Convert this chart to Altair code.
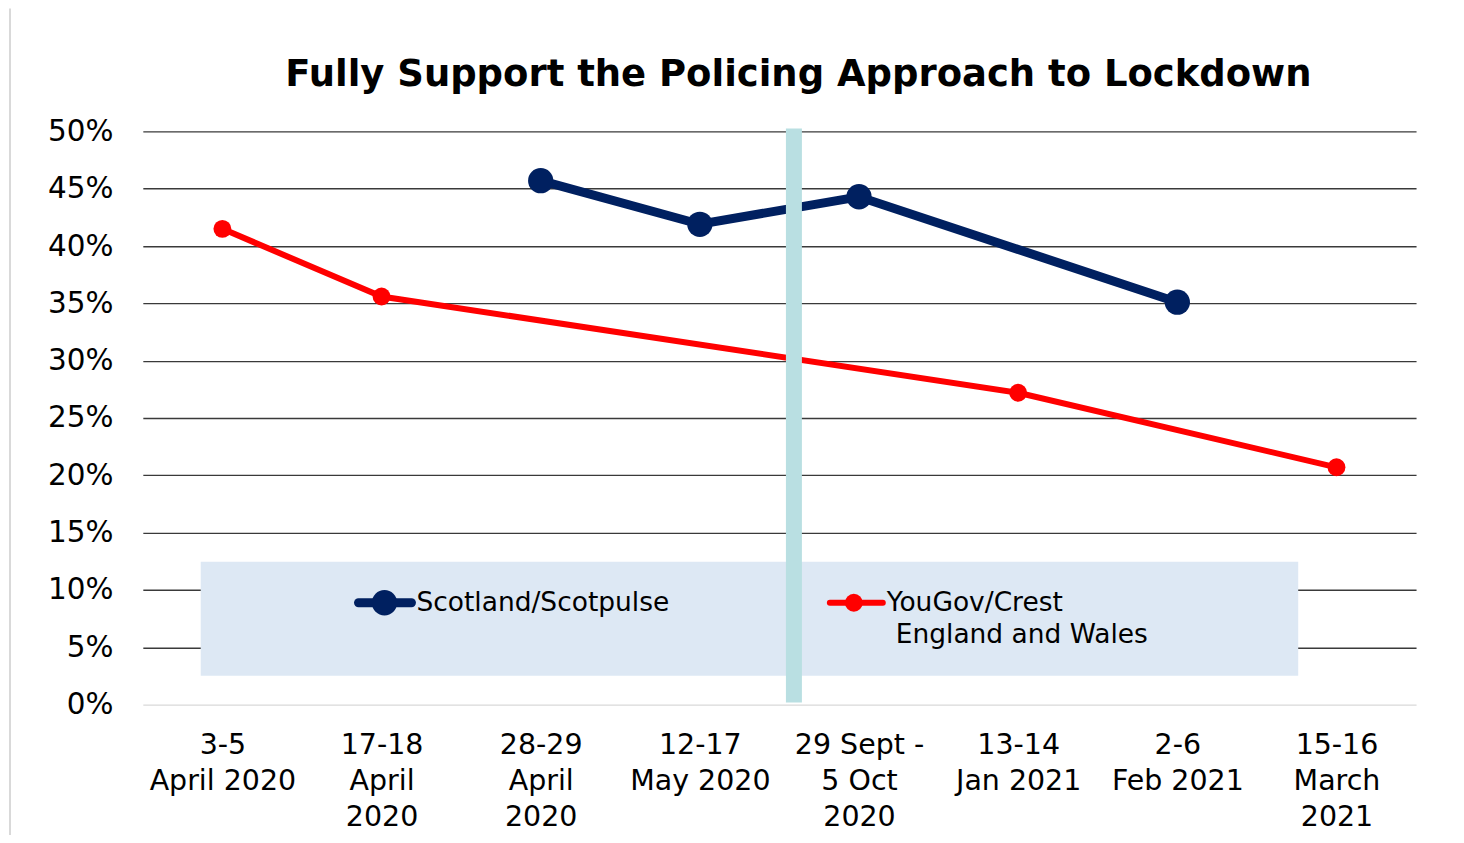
import altair as alt
import pandas as pd

categories = [
    "3-5\nApril 2020",
    "17-18\nApril\n2020",
    "28-29\nApril\n2020",
    "12-17\nMay 2020",
    "29 Sept -\n5 Oct\n2020",
    "13-14\nJan 2021",
    "2-6\nFeb 2021",
    "15-16\nMarch\n2021",
]
scotland = [None, None, 0.457, 0.419, 0.443, None, 0.351, None]
yougov = [0.415, 0.356, None, None, None, 0.272, None, 0.207]
series_names = ["Scotland/Scotpulse", "YouGov/Crest England and Wales"]
y_ticks = [0, 0.05, 0.10, 0.15, 0.20, 0.25, 0.30, 0.35, 0.40, 0.45, 0.50]

rows = []
for name, vals in zip(series_names, [scotland, yougov]):
    for c, v in zip(categories, vals):
        if v is not None:
            rows.append({"series": name, "period": c, "value": v})
df = pd.DataFrame(rows)

NAVY = "#002060"
RED = "#ff0000"
TEAL = "#b9dfe2"
BOX = "#dde8f4"
FONT = "DejaVu Sans"

W, H = 1275, 574
one = pd.DataFrame({"a": [0]})

xenc = alt.X("period:N", sort=categories, scale=alt.Scale(domain=categories),
             axis=alt.Axis(title=None, labelExpr="split(datum.value, '\\n')",
                           labelAngle=0, labelFontSize=28.5, labelFont=FONT,
                           labelColor="#000000", labelLineHeight=36,
                           labelPadding=26, ticks=False, domain=False,
                           grid=False, labelBaseline="top"))
yenc = alt.Y("value:Q", scale=alt.Scale(domain=[0, 0.5], nice=False),
             axis=alt.Axis(title=None, values=y_ticks, format=".0%",
                           labelFontSize=29.5, labelFont=FONT, labelColor="#000000",
                           labelPadding=30, ticks=False, domain=False,
                           grid=True,
                           gridColor=alt.condition("datum.value == 0",
                                                   alt.value("#d9d9d9"),
                                                   alt.value("#3a3a3a")),
                           gridWidth=1.4))

base = alt.Chart(df)

axes_layer = base.mark_point(opacity=0).encode(x=xenc, y=yenc)

legend_box = alt.Chart(one).mark_rect(color=BOX).encode(
    x=alt.value(58), x2=alt.value(1157), y=alt.value(431), y2=alt.value(545))

sc = df[df.series == series_names[0]]
yg = df[df.series == series_names[1]]

sc_line = alt.Chart(sc).mark_line(color=NAVY, strokeWidth=9).encode(
    x=alt.X("period:N", sort=categories), y="value:Q")
sc_pts = alt.Chart(sc).mark_point(color=NAVY, filled=True, opacity=1, size=640).encode(
    x=alt.X("period:N", sort=categories), y="value:Q")
yg_line = alt.Chart(yg).mark_line(color=RED, strokeWidth=6).encode(
    x=alt.X("period:N", sort=categories), y="value:Q")
yg_pts = alt.Chart(yg).mark_point(color=RED, filled=True, opacity=1, size=320).encode(
    x=alt.X("period:N", sort=categories), y="value:Q")

teal_bar = alt.Chart(one).mark_rect(color=TEAL).encode(
    x=alt.value(644), x2=alt.value(660), y=alt.value(-3), y2=alt.value(572))

leg_sc_rule = alt.Chart(one).mark_rule(color=NAVY, strokeWidth=9, strokeCap="round").encode(
    x=alt.value(216), x2=alt.value(269), y=alt.value(472))
leg_sc_pt = alt.Chart(one).mark_point(color=NAVY, filled=True, opacity=1, size=640).encode(
    x=alt.value(242), y=alt.value(472))
leg_sc_txt = alt.Chart(one).mark_text(align="left", baseline="middle", font=FONT,
                                      fontSize=26.5, color="#000000").encode(
    x=alt.value(274), y=alt.value(472), text=alt.value("Scotland/Scotpulse"))

leg_yg_rule = alt.Chart(one).mark_rule(color=RED, strokeWidth=6, strokeCap="round").encode(
    x=alt.value(688), x2=alt.value(741), y=alt.value(472))
leg_yg_pt = alt.Chart(one).mark_point(color=RED, filled=True, opacity=1, size=320).encode(
    x=alt.value(712), y=alt.value(472))
leg_yg_txt1 = alt.Chart(one).mark_text(align="left", baseline="middle", font=FONT,
                                       fontSize=26.5, color="#000000").encode(
    x=alt.value(745), y=alt.value(472), text=alt.value("YouGov/Crest"))
leg_yg_txt2 = alt.Chart(one).mark_text(align="left", baseline="middle", font=FONT,
                                       fontSize=26.5, color="#000000").encode(
    x=alt.value(754), y=alt.value(504), text=alt.value("England and Wales"))

frame_left = alt.Chart(one).mark_rule(color="#d9d9d9", strokeWidth=2).encode(
    x=alt.value(-133), y=alt.value(-123), y2=alt.value(720))

chart = alt.layer(
    axes_layer, legend_box, sc_line, yg_line, sc_pts, yg_pts, teal_bar,
    leg_sc_rule, leg_sc_pt, leg_sc_txt, leg_yg_rule, leg_yg_pt,
    leg_yg_txt1, leg_yg_txt2, frame_left,
).properties(
    width=W, height=H,
    title=alt.TitleParams("Fully Support the Policing Approach to Lockdown",
                          font=FONT, fontSize=37, fontWeight="bold",
                          color="#000000", anchor="middle", frame="group",
                          baseline="alphabetic", offset=-116, dx=19),
    autosize=alt.AutoSizeParams(type="none"),
    padding={"left": 135, "top": 123, "right": 40, "bottom": 130},
).configure(background="white").configure_view(strokeWidth=0)

chart.save("out.html", embed_options={"renderer": "svg", "actions": False})
